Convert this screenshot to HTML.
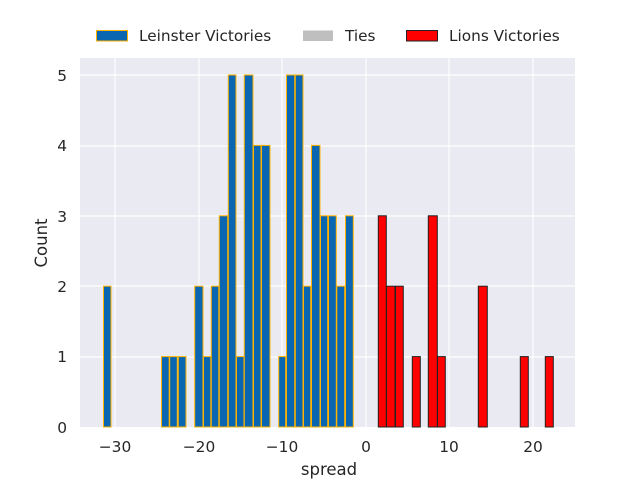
<!DOCTYPE html>
<html><head><meta charset="utf-8"><style>
html,body{margin:0;padding:0;background:#fff;}
svg{display:block;font-family:"DejaVu Sans","Liberation Sans",sans-serif;}
</style></head><body>
<svg width="640" height="480" viewBox="0 0 640 480" xmlns="http://www.w3.org/2000/svg">
<rect x="80" y="58" width="495" height="369" fill="#eaeaf2"/>
<g stroke="#fff" stroke-width="1.2">
<line x1="115" y1="58" x2="115" y2="427"/><line x1="199" y1="58" x2="199" y2="427"/>
<line x1="282" y1="58" x2="282" y2="427"/><line x1="366" y1="58" x2="366" y2="427"/>
<line x1="449" y1="58" x2="449" y2="427"/><line x1="533" y1="58" x2="533" y2="427"/>
<line x1="80" y1="75" x2="575" y2="75"/><line x1="80" y1="146" x2="575" y2="146"/>
<line x1="80" y1="216" x2="575" y2="216"/><line x1="80" y1="286" x2="575" y2="286"/>
<line x1="80" y1="357" x2="575" y2="357"/>
</g>
<g fill="#0a66b0" stroke="#ffb300" stroke-width="1">
<rect x="103.5" y="286.2" width="7.5" height="140.8"/>
<rect x="161.5" y="356.6" width="7.7" height="70.4"/>
<rect x="169.7" y="356.6" width="7.6" height="70.4"/>
<rect x="178.3" y="356.6" width="7.7" height="70.4"/>
<rect x="194.7" y="286.2" width="8.3" height="140.8"/>
<rect x="203.5" y="356.6" width="7.3" height="70.4"/>
<rect x="211.3" y="286.2" width="7.5" height="140.8"/>
<rect x="219.3" y="215.8" width="8.4" height="211.2"/>
<rect x="228.3" y="75" width="7.7" height="352"/>
<rect x="236.5" y="356.6" width="7.5" height="70.4"/>
<rect x="244.3" y="75" width="8.7" height="352"/>
<rect x="253.5" y="145.4" width="7.5" height="281.6"/>
<rect x="261.5" y="145.4" width="8.5" height="281.6"/>
<rect x="278.7" y="356.6" width="7" height="70.4"/>
<rect x="286.5" y="75" width="8.2" height="352"/>
<rect x="295.3" y="75" width="7.7" height="352"/>
<rect x="303.5" y="286.2" width="7.2" height="140.8"/>
<rect x="311.5" y="145.4" width="8.5" height="281.6"/>
<rect x="320.5" y="215.8" width="7.2" height="211.2"/>
<rect x="328.5" y="215.8" width="7.8" height="211.2"/>
<rect x="336.8" y="286.2" width="7.9" height="140.8"/>
<rect x="345.5" y="215.8" width="7.8" height="211.2"/>
</g>
<g fill="#ff0000" stroke="#222" stroke-width="1">
<rect x="378.3" y="215.8" width="8" height="211.2"/>
<rect x="386.5" y="286.2" width="8.5" height="140.8"/>
<rect x="395.5" y="286.2" width="7.8" height="140.8"/>
<rect x="412.3" y="356.6" width="8" height="70.4"/>
<rect x="428.3" y="215.8" width="9" height="211.2"/>
<rect x="437.5" y="356.6" width="7.8" height="70.4"/>
<rect x="478.3" y="286.2" width="9" height="140.8"/>
<rect x="520.3" y="356.6" width="8" height="70.4"/>
<rect x="545.3" y="356.6" width="8" height="70.4"/>
</g>
<g fill="#262626" font-size="15.4" text-anchor="middle">
<text x="115" y="452">−30</text><text x="199" y="452">−20</text><text x="282" y="452">−10</text>
<text x="366" y="452">0</text><text x="449" y="452">10</text><text x="533" y="452">20</text>
<text x="329" y="475" font-size="16.5">spread</text>
</g>
<g fill="#262626" font-size="15.4" text-anchor="end">
<text x="67" y="433">0</text><text x="67" y="362">1</text><text x="67" y="292">2</text>
<text x="67" y="222">3</text><text x="67" y="151">4</text><text x="67" y="81">5</text>
</g>
<text transform="translate(47,243) rotate(-90)" fill="#262626" font-size="16.5" text-anchor="middle">Count</text>
<rect x="96.5" y="30.5" width="31" height="10.5" fill="#0a66b0" stroke="#ffb300"/>
<text x="139" y="41" font-size="15.3" fill="#262626">Leinster Victories</text>
<rect x="303" y="30.5" width="30" height="10.5" fill="#bfbfbf"/>
<text x="345" y="41" font-size="15.3" fill="#262626">Ties</text>
<rect x="406.5" y="30.5" width="31" height="10.5" fill="#ff0000" stroke="#222"/>
<text x="449" y="41" font-size="15.3" fill="#262626">Lions Victories</text>
</svg>
</body></html>
